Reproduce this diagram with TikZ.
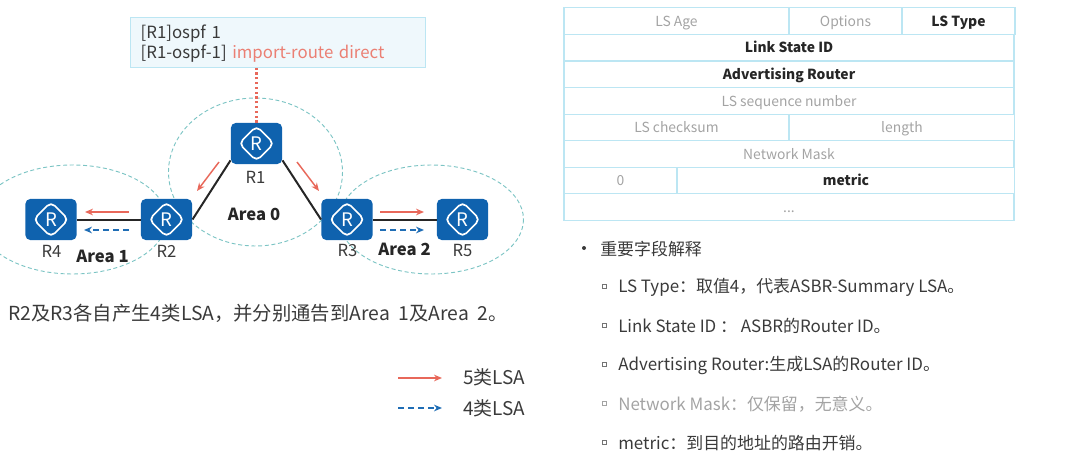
\documentclass[tikz,border=0pt]{standalone}
\usepackage{fontspec}
\setmainfont{Noto Sans CJK SC}
\usetikzlibrary{arrows.meta}
\definecolor{routerblue}{HTML}{0F62AE}
\definecolor{ringteal}{HTML}{7CC4C4}
\definecolor{lsared}{HTML}{E8685A}
\definecolor{lsablue}{HTML}{1F6DB5}
\definecolor{gridblue}{HTML}{BCE6F3}
\definecolor{boxfill}{HTML}{EFF8FC}
\definecolor{dimtext}{HTML}{A3A3A3}
\definecolor{maintext}{HTML}{3A3A3A}
\tikzset{
  router/.style={fill=routerblue,rounded corners=4pt,minimum width=38.6pt,minimum height=31pt,
    inner sep=0pt,text=white,font=\fontsize{14}{14}\selectfont,
    path picture={\draw[white,line width=1.3pt] (path picture bounding box.center)
      +(-17.5,0) -- +(0,-17.5) -- +(17.5,0) -- +(0,17.5) -- cycle;}},
  rname/.style={font=\fontsize{12.5}{14}\selectfont,text=maintext,inner sep=0pt},
  areaname/.style={font=\fontsize{12.5}{14}\selectfont\bfseries,text=black!85,inner sep=0pt},
  arearing/.style={draw=ringteal,densely dashed,line width=.7pt},
  link/.style={draw=black!85,line width=1.5pt},
  lsafive/.style={draw=lsared,line width=1.1pt,-{Stealth[length=6pt,width=5pt]}},
  lsafour/.style={draw=lsablue,line width=1.1pt,dash pattern=on 4.5pt off 3pt,-{Stealth[length=6pt,width=5pt]}},
  cell/.style={draw=gridblue,line width=.8pt,minimum height=19.9pt,inner sep=0pt,text=dimtext,
    text height=10pt,text depth=2pt,font=\fontsize{10.4}{12}\selectfont},
  keycell/.style={cell,text=black!85,font=\fontsize{10.4}{12}\selectfont\bfseries},
  note/.style={anchor=west,inner sep=0pt,text=maintext,font=\fontsize{12.7}{14}\selectfont},
  tick/.style={draw=black!55,line width=.4pt,minimum size=3pt,inner sep=0pt},
}
\begin{document}
\begin{tikzpicture}[x=0.75pt,y=-0.75pt]
  \useasboundingbox (0,0) rectangle (1076,460);
  % areas
  \draw[arearing] (255.5,172) ellipse (87 and 74);
  \draw[arearing] (72.5,219.5) ellipse (94 and 54.5);
  \draw[arearing] (431.5,219.5) ellipse (92 and 54.5);
  % routers
  \node[router] (r1) at (256.5,143.5) {R};
  \node[router] (r2) at (166.5,219.5) {R};
  \node[router] (r3) at (347,219.5) {R};
  \node[router] (r4) at (51,219.5) {R};
  \node[router] (r5) at (462.5,219.5) {R};
  \node[rname] (n1) at (255.5,177) {R1};
  \node[rname] (n2) at (166.5,251) {R2};
  \node[rname] (n3) at (347.5,251) {R3};
  \node[rname] (n4) at (51.5,251) {R4};
  \node[rname] (n5) at (462.5,251) {R5};
  \node[areaname] (a0) at (254,214) {Area 0};
  \node[areaname] (a1) at (102.5,256) {Area 1};
  \node[areaname] (a2) at (404.5,249) {Area 2};
  % links
  \draw[link] (r1.213) -- (r2.east);
  \draw[link] (r1.-33) -- (r3.west);
  \draw[link] (r4) -- (r2);
  \draw[link] (r3) -- (r5);
  % config box
  \node[draw=gridblue,fill=boxfill,line width=.8pt,minimum width=221.6pt,minimum height=37.5pt,
    text width=206pt,inner sep=0pt,align=left,text=maintext,
    font=\fontsize{12.6}{15}\selectfont] (cfg) at (278,42.5)
    {\rule{0pt}{11.5pt}{[R1]ospf 1}\\{[R1-ospf-1]} \textcolor{lsared!85}{import-route direct}};
  \draw[lsared,line width=1.6pt,dotted] (r1.north) -- (r1.north |- cfg.south);
  % lsa arrows
  \coordinate (f1) at (219,162);
  \coordinate (t1) at (197,191);
  \coordinate (f2) at (297,162);
  \coordinate (t2) at (319,191);
  \coordinate (f3) at (128.5,212);
  \coordinate (t3) at (85,212);
  \coordinate (f4) at (380,212);
  \coordinate (t4) at (424,212);
  \coordinate (f5) at (398,378);
  \coordinate (t5) at (442,378);
  \coordinate (d1) at (128.5,230);
  \coordinate (e1) at (84,230);
  \coordinate (d2) at (380,230);
  \coordinate (e2) at (424,230);
  \coordinate (d3) at (398,408);
  \coordinate (e3) at (442,408);
  \foreach \i in {1,...,5}
    \draw[lsafive] (f\i) -- (t\i);
  \foreach \i in {1,2,3}
    \draw[lsafour] (d\i) -- (e\i);
  % text under the network
  \node[note,font=\fontsize{14.5}{16}\selectfont] (said) at (8,313)
    {R2及R3各自产生4类LSA，并分别通告到Area\ \ 1及Area\ \ 2。};
  \node[note,font=\fontsize{14.2}{16}\selectfont] (k5) at (463,377) {5类LSA};
  \node[note,font=\fontsize{14.2}{16}\selectfont] (k4) at (463,408) {4类LSA};
  % lsa header
  \foreach \n/\x/\y/\w/\t in {age/676.5/21/225/LS Age,opt/845.5/21/113/Options,
      seq/789/101/450/LS sequence number,sum/676.5/127.5/225/LS checksum,
      len/902/127.5/225/length,mask/789/154/450/Network Mask,zero/620.5/180.5/113/0}
    \node[cell,minimum width=\w*0.75pt] (\n) at (\x,\y) {\t};
  \node[cell,minimum width=337.5pt] (more) at (789,207) {...};
  \foreach \n/\x/\y/\w/\t in {type/958.5/21/113/LS Type,lsid/789/47.5/450/Link State ID,
      adv/789/74.5/450/Advertising Router,metric/846/180.5/337/metric}
    \node[keycell,minimum width=\w*0.75pt] (\n) at (\x,\y) {\t};
  % field notes
  \fill[maintext] (584,248) circle (2);
  \node[note] (head) at (600,249) {重要字段解释};
  \foreach \n/\y/\t in {p1/287/LS Type：取值4，代表ASBR-Summary LSA。,
      p2/326/Link State ID ： ASBR的Router ID。,
      p3/365/Advertising Router:生成LSA的Router ID。,
      p5/443/metric：到目的地址的路由开销。}
    {\node[tick] (\n b) at (604,\y-1) {};
     \node[note] (\n) at (618,\y) {\t};}
  \node[tick,draw=dimtext] (p4b) at (604,403) {};
  \node[note,text=dimtext] (p4) at (618,404) {Network Mask：仅保留，无意义。};
\end{tikzpicture}
\end{document}
